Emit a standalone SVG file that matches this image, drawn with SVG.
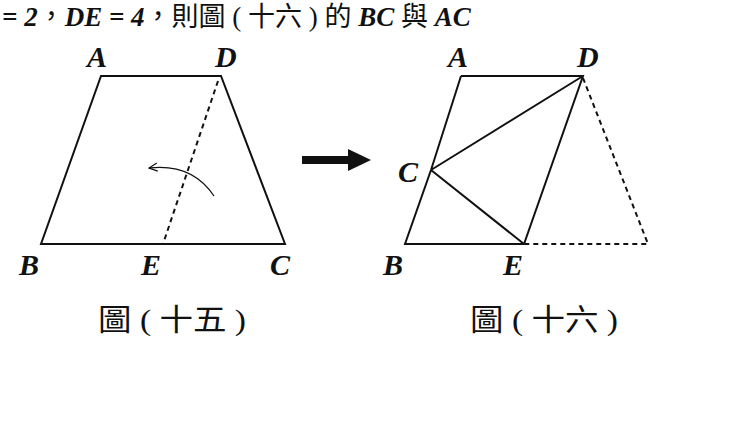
<svg xmlns="http://www.w3.org/2000/svg" width="740" height="440" viewBox="0 0 740 440">
<style>
.l{font-family:"Liberation Serif",serif;font-weight:bold;font-style:italic;font-size:30px;fill:#111}
.h{font-family:"Liberation Serif",serif;font-weight:bold;font-style:italic;font-size:27px;fill:#111}
.t{font-family:"Liberation Serif","Noto Sans CJK TC",serif;font-size:27px;fill:#111}
.c{font-family:"Liberation Serif","Noto Sans CJK TC",serif;font-size:30px;fill:#111}
.s{stroke:#111;stroke-width:2;fill:none}
.d{stroke:#111;stroke-width:2;fill:none;stroke-dasharray:5,4}
</style>
<defs><marker id="ah" viewBox="0 0 10 10" refX="9" refY="5" markerWidth="8" markerHeight="8" orient="auto-start-reverse"><path d="M1,1 L9,5 L1,9" fill="none" stroke="#111" stroke-width="1.2"/></marker></defs>
<text x="2" y="26" class="t"><tspan class="h" font-style="normal">= 2</tspan>，<tspan class="h">DE</tspan><tspan class="h" font-style="normal"> = 4</tspan>，則圖 ( 十六 ) 的 <tspan class="h">BC</tspan> 與 <tspan class="h">AC</tspan></text>
<g id="fig15">
<path class="s" d="M101,76 L221,76 L285,244 L41,244 Z"/>
<path class="d" d="M218,81 L163,244"/>
<path d="M214,196 Q192,163 149,168" stroke="#111" stroke-width="1.3" fill="none" marker-end="url(#ah)"/>
<text x="87" y="67" class="l">A</text><text x="215" y="67" class="l">D</text>
<text x="19" y="275" class="l">B</text><text x="141" y="275" class="l">E</text><text x="270" y="275" class="l">C</text>
<text x="98" y="330" class="c" textLength="148" lengthAdjust="spacingAndGlyphs">圖 ( 十五 )</text>
</g>
<g id="arrow"><path d="M302,160 L350,160" stroke="#111" stroke-width="8"/><path d="M348,149 L371,160 L348,171 Z" fill="#111"/></g>
<g id="fig16">
<path class="s" d="M461,76 L583,76 L524,244 L405,244 L431,170 L461,76 M431,170 L583,76 M431,170 L524,244"/>
<path class="d" d="M583,78 L648,244 L524,244"/>
<text x="448" y="67" class="l">A</text><text x="577" y="67" class="l">D</text>
<text x="398" y="182" class="l">C</text>
<text x="383" y="275" class="l">B</text><text x="503" y="275" class="l">E</text>
<text x="470" y="330" class="c" textLength="148" lengthAdjust="spacingAndGlyphs">圖 ( 十六 )</text>
</g>
</svg>
